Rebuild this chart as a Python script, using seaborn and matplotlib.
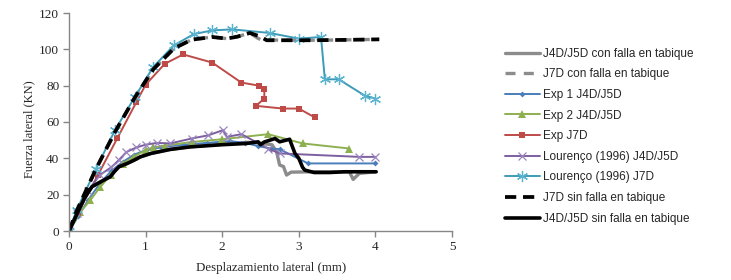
import matplotlib
matplotlib.use("Agg")
import matplotlib.pyplot as plt
import seaborn as sns
import pandas as pd

sns.set_theme(style="white")
plt.rcParams['font.family'] = ['Liberation Serif', 'DejaVu Serif']

# ---- data ----
gray_solid_x = [0, 0.1, 0.2, 0.3, 0.41, 0.54, 0.59, 0.65, 0.76, 0.85, 0.93, 1.07, 1.32, 1.58, 2.0, 2.32, 2.47, 2.55, 2.65, 2.71, 2.75, 2.8, 2.84, 2.9, 3.18, 3.66, 3.71, 3.79, 4.0]
gray_solid_y = [0, 9, 18, 24.4, 27, 29.9, 32.6, 35.3, 37.2, 39, 40.8, 42.7, 44.9, 46.3, 47.8, 48.8, 48.5, 48, 47.5, 43.6, 36.3, 35.5, 30.8, 32.4, 32.6, 32.6, 28.4, 31.7, 32.6]

gray_dash_x = [0, 0.1, 0.35, 0.6, 0.86, 1.1, 1.37, 1.6, 1.87, 2.06, 2.2, 2.36, 2.47, 2.55, 2.62, 2.8, 3.2, 3.6, 4.05]
gray_dash_y = [0, 11, 34, 54.5, 73.5, 89, 100.5, 105.3, 106.8, 105.9, 107, 109, 106, 104.5, 105.2, 105, 105, 105.2, 105.5]

exp1_x = [0, 0.12, 0.25, 0.4, 0.55, 0.7, 0.85, 1.0, 1.2, 1.5, 1.8, 2.1, 2.3, 2.47, 2.64, 2.75, 3.12, 4.0]
exp1_y = [0, 8, 17, 26, 33, 38, 42, 44.5, 46, 47.5, 48.5, 49.5, 48.5, 46.7, 45.4, 45, 37.2, 37.2]

exp2_x = [0, 0.15, 0.28, 0.41, 0.55, 0.7, 0.85, 1.0, 1.1, 1.25, 1.6, 2.0, 2.6, 3.05, 3.66]
exp2_y = [0, 10.6, 17, 24.4, 31, 37, 41, 44.5, 46, 47, 49, 50.5, 53.3, 48.2, 45.4]

expj7_x = [0, 0.12, 0.38, 0.63, 0.88, 1.0, 1.25, 1.49, 1.87, 2.25, 2.48, 2.55, 2.55, 2.44, 2.79, 3.0, 3.21]
expj7_y = [0, 10, 31, 51, 71, 80.5, 92, 97.2, 92.7, 81.7, 80, 77.9, 72.9, 68.9, 67.4, 67.4, 62.5]

lour45_x = [0, 0.1, 0.25, 0.4, 0.55, 0.65, 0.75, 0.88, 1.0, 1.15, 1.32, 1.6, 1.82, 2.01, 2.06, 2.25, 2.6, 2.75, 3.79, 4.0]
lour45_y = [0, 10, 22, 30.8, 35, 39, 43.5, 46, 47.5, 48.5, 48.2, 50.9, 52.7, 55.5, 51.8, 53.3, 45.4, 42.7, 40.8, 40.8]

lour7_x = [0, 0.1, 0.35, 0.6, 0.86, 1.1, 1.37, 1.63, 1.87, 2.13, 2.62, 3.0, 3.29, 3.34, 3.52, 3.87, 4.0]
lour7_y = [0, 11.5, 34, 55.5, 73.8, 90.3, 102.2, 108.4, 110.4, 111, 109, 105.9, 106.8, 83.5, 83.5, 74.3, 72.9]

blk_dash_x = [0, 0.1, 0.35, 0.6, 0.86, 1.1, 1.37, 1.6, 1.87, 2.06, 2.2, 2.36, 2.5, 2.58, 2.8, 3.2, 3.6, 4.05]
blk_dash_y = [0, 11, 34, 54.5, 73.5, 89, 100.5, 105.3, 106.8, 105.9, 107, 109, 107, 105, 105, 105, 105.2, 105.5]

blk_solid_x = [0, 0.1, 0.2, 0.3, 0.41, 0.54, 0.59, 0.65, 0.76, 0.85, 0.93, 1.07, 1.32, 1.58, 2.0, 2.32, 2.47, 2.5, 2.55, 2.69, 2.75, 2.88, 2.92, 2.95, 3.0, 3.05, 3.08, 3.2, 3.4, 3.6, 4.01]
blk_solid_y = [0, 9, 18, 24.4, 27, 29.9, 32.6, 35.3, 37.2, 39, 40.8, 42.7, 44.9, 46.3, 47.5, 48.2, 49.1, 47.5, 49, 50.9, 49.1, 50.5, 46, 42.7, 40, 35, 33.5, 32.2, 32.2, 32.6, 32.6]

labels = ["J4D/J5D con falla en tabique", "J7D con falla en tabique", "Exp 1 J4D/J5D",
          "Exp 2 J4D/J5D", "Exp J7D", "Lourenço (1996) J4D/J5D", "Lourenço (1996) J7D",
          "J7D sin falla en tabique", "J4D/J5D sin falla en tabique"]

fig = plt.figure(figsize=(7.31, 2.80), dpi=100)
ax = fig.add_axes([69/731, 49/280, 383/731, 218/280])

def draw(x, y, label, **kw):
    sns.lineplot(x=x, y=y, sort=False, estimator=None, ax=ax, label=label, **kw)

draw(gray_solid_x, gray_solid_y, labels[0], color="#8c8c8c", linewidth=2.4)
draw(gray_dash_x, gray_dash_y, labels[1], color="#8c8c8c", linewidth=2.4, linestyle=(0, (3, 2.5)))
draw(exp1_x, exp1_y, labels[2], color="#4a7ebb", linewidth=1.4, marker="D", markersize=3, markeredgewidth=0)
draw(exp2_x, exp2_y, labels[3], color="#8db050", linewidth=1.4, marker="^", markersize=6, markeredgewidth=0)
draw(expj7_x, expj7_y, labels[4], color="#be4b48", linewidth=1.4, marker="s", markersize=4.5, markeredgewidth=0)
draw(lour45_x, lour45_y, labels[5], color="#7d5fa0", linewidth=1.4, marker="x", markersize=6, markeredgewidth=0.9, markeredgecolor="#9a85c0")
draw(lour7_x, lour7_y, labels[6], color="#3d9bb8", linewidth=1.4, marker=(6, 2, 0), markersize=8, markeredgewidth=0.9, markeredgecolor="#5ab4d0")
draw(blk_dash_x, blk_dash_y, labels[7], color="black", linewidth=2.7, linestyle=(0, (3, 1.8)))
draw(blk_solid_x, blk_solid_y, labels[8], color="black", linewidth=2.6)

ax.set_xlim(0, 5)
ax.set_ylim(0, 120)
ax.set_xticks([0, 1, 2, 3, 4, 5])
ax.set_yticks([0, 20, 40, 60, 80, 100, 120])
for s in ["top", "right"]:
    ax.spines[s].set_visible(False)
for s in ["left", "bottom"]:
    ax.spines[s].set_color("#868686")
    ax.spines[s].set_linewidth(1.0)
ax.tick_params(axis="both", which="both", direction="out", length=4, width=1,
               color="#868686", labelsize=9.5, pad=3, left=True, bottom=True)
ax.set_xlabel("Desplazamiento lateral (mm)", fontsize=9.3)
ax.set_ylabel("Fuerza lateral (KN)", fontsize=9)
ax.xaxis.set_label_coords((271 - 69) / 383, -(268 - 231) / 218, transform=ax.transAxes)
ax.yaxis.set_label_coords(-(69 - 29) / 383, (231 - 129) / 218, transform=ax.transAxes)
ax.xaxis.label.set_va("center")
ax.yaxis.label.set_va("center")

leg = ax.legend(loc="upper left", bbox_to_anchor=(500/731, 1 - 43/280), bbox_transform=fig.transFigure,
                frameon=False, prop={"family": ["Liberation Sans", "DejaVu Sans"], "size": 8.5},
                handlelength=3.0, handletextpad=0.2, labelspacing=0.73, borderaxespad=0)

fig.savefig("out.png", dpi=100, facecolor="white")
